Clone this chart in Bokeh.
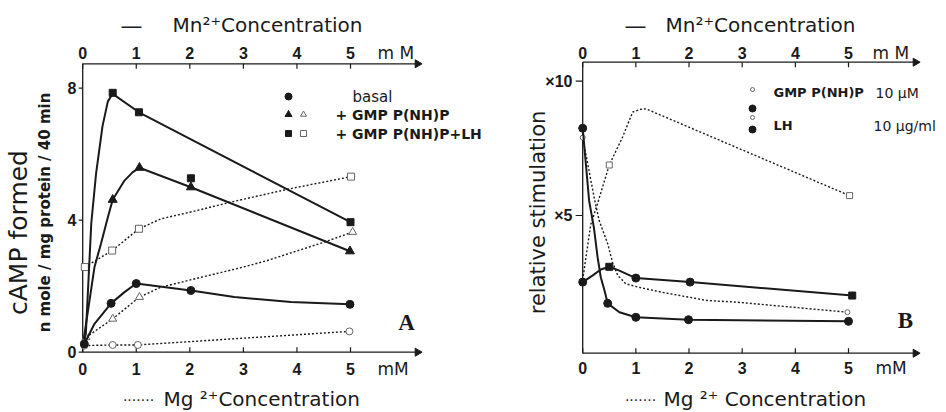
import math
from bokeh.plotting import figure
from bokeh.models import Range1d, Label
from bokeh.layouts import row
from bokeh.embed import file_html
from bokeh.resources import INLINE
from bokeh.core.properties import value

# ======================= DATA =======================
mn_ticks = [0, 1, 2, 3, 4, 5]
mn_tick_labels = ["0", "1", "2", "3", "4", "5"]
a_y_ticks = [0, 4, 8]
a_y_tick_labels = ["0", "4", "8"]
b_y_ticks = [5, 10]
b_y_tick_labels = ["×5", "×10"]

# ---- Panel A : cAMP formed (n mole / mg protein / 40 min) ----
# Mn2+ (solid curves, filled markers)
a_mn_basal_x = [0.03, 0.53, 1.0, 2.02, 4.99]
a_mn_basal_y = [0.25, 1.48, 2.08, 1.87, 1.45]
a_mn_basal_curve_x = [0.03, 0.22, 0.53, 0.78, 1.0, 2.02, 2.83, 3.89, 4.99]
a_mn_basal_curve_y = [0.25, 0.86, 1.48, 1.82, 2.08, 1.87, 1.67, 1.52, 1.45]

a_mn_gmp_x = [0.56, 1.06, 2.02, 4.99]
a_mn_gmp_y = [4.62, 5.59, 5.00, 3.06]
a_mn_gmp_curve_x = [0.02, 0.22, 0.34, 0.47, 0.56, 0.78, 0.93, 1.06, 2.02, 4.99]
a_mn_gmp_curve_y = [0.40, 2.58, 3.28, 4.09, 4.62, 5.20, 5.45, 5.59, 5.00, 3.06]

a_mn_lh_x = [0.56, 1.05, 2.02, 5.0]
a_mn_lh_y = [7.86, 7.27, 5.27, 3.94]
a_mn_lh_curve_x = [0.03, 0.06, 0.16, 0.25, 0.37, 0.47, 0.56, 1.05, 5.0]
a_mn_lh_curve_y = [0.30, 0.60, 3.90, 5.42, 6.85, 7.60, 7.83, 7.27, 3.94]

# Mg2+ (dotted curves, open markers)
a_mg_basal_x = [0.03, 0.56, 1.03, 4.98]
a_mg_basal_y = [0.20, 0.22, 0.22, 0.63]

a_mg_gmp_x = [0.06, 0.56, 1.06, 5.04]
a_mg_gmp_y = [0.45, 1.01, 1.67, 3.64]
a_mg_gmp_curve_x = [0.06, 0.56, 1.06, 1.46, 2.21, 3.0, 3.45, 4.5, 5.04]
a_mg_gmp_curve_y = [0.45, 1.01, 1.67, 1.97, 2.27, 2.58, 2.78, 3.33, 3.64]

a_mg_lh_x = [0.04, 0.55, 1.05, 5.01]
a_mg_lh_y = [2.58, 3.08, 3.74, 5.32]
a_mg_lh_curve_x = [0.04, 0.55, 1.05, 1.46, 2.15, 2.77, 3.86, 5.01]
a_mg_lh_curve_y = [2.58, 3.08, 3.74, 4.04, 4.30, 4.55, 4.95, 5.32]

# ---- Panel B : relative stimulation ----
# Mn2+ (solid)
b_mn_lh_x = [0.0, 0.47, 1.0, 1.99, 5.0]
b_mn_lh_y = [8.25, 1.73, 1.21, 1.12, 1.06]
b_mn_lh_curve_x = [0.0, 0.12, 0.21, 0.28, 0.34, 0.41, 0.47, 0.69, 1.0, 1.99, 5.0]
b_mn_lh_curve_y = [8.25, 5.56, 4.56, 3.45, 2.70, 2.21, 1.73, 1.40, 1.21, 1.12, 1.06]

b_mn_gmp_circle_x = [0.0, 1.0, 2.02]
b_mn_gmp_circle_y = [2.52, 2.67, 2.52]
b_mn_gmp_square_x = [0.5, 5.07]
b_mn_gmp_square_y = [3.09, 2.02]
b_mn_gmp_curve_x = [0.0, 0.19, 0.34, 0.5, 0.69, 1.0, 2.02, 5.07]
b_mn_gmp_curve_y = [2.52, 2.77, 2.99, 3.09, 2.95, 2.67, 2.52, 2.02]

# Mg2+ (dotted)
b_mg_gmp_x = [0.5, 5.02]
b_mg_gmp_y = [6.88, 5.74]
b_mg_gmp_curve_x = [0.0, 0.15, 0.28, 0.5, 0.75, 0.94, 1.08, 1.19, 5.02]
b_mg_gmp_curve_y = [2.60, 4.65, 5.45, 6.88, 7.92, 8.85, 8.95, 8.97, 5.74]

b_mg_lh_x = [0.0, 4.98]
b_mg_lh_y = [7.90, 1.40]
b_mg_lh_curve_x = [0.0, 0.22, 0.31, 0.47, 0.56, 0.66, 0.81, 1.05, 1.5, 1.94, 2.32, 2.92, 4.98]
b_mg_lh_curve_y = [7.90, 5.62, 4.81, 3.95, 3.26, 2.77, 2.46, 2.33, 2.14, 1.98, 1.84, 1.77, 1.40]

# ======================= LAYOUT =======================
H = 411
INK = "#1a1a1a"
SANS = "Liberation Sans"
DJ = "DejaVu Sans"


class Frame:
    """Maps picture pixels (for annotation placement) to the figure's data space."""

    def __init__(self, width, dx, cx0, sx, cy0, sy):
        self.width, self.dx = width, dx
        self.cx0, self.sx, self.cy0, self.sy = cx0, sx, cy0, sy
        self.xs, self.xe = -cx0 / sx, (width - cx0) / sx
        self.ys, self.ye = -(H - cy0) / sy, cy0 / sy

    def x(self, page_x):
        return (page_x - self.dx - self.cx0) / self.sx

    def y(self, page_y):
        return (self.cy0 - page_y) / self.sy


def make_fig(fr):
    p = figure(width=fr.width, height=H, x_range=Range1d(fr.xs, fr.xe),
               y_range=Range1d(fr.ys, fr.ye), output_backend="svg",
               toolbar_location=None, x_axis_location=None, y_axis_location=None,
               min_border=0)
    p.outline_line_color = None
    p.grid.visible = False
    p.background_fill_color = "white"
    p.border_fill_color = "white"
    return p


def draw_axes(p, fr, x_end, y_bot, y_top, yticks, ylabels, ytick_out,
              ylab_right_px, xlab_bot_py, xlab_top_py):
    n, m = len(mn_ticks), len(yticks)
    p.segment(x0=[0, 0, 0], y0=[y_bot, y_bot, y_top], x1=[0, x_end, x_end],
              y1=[y_top, y_bot, y_top], line_color=INK, line_width=1.3)
    p.scatter([x_end, x_end], [y_bot, y_top], marker="triangle", angle=-math.pi / 2,
              size=8, color=INK)
    tin = 5 / fr.sy
    p.segment(x0=mn_ticks, y0=[y_bot] * n, x1=mn_ticks, y1=[y_bot + tin] * n,
              line_color=INK, line_width=1.2)
    p.segment(x0=mn_ticks, y0=[y_top] * n, x1=mn_ticks, y1=[y_top - tin] * n,
              line_color=INK, line_width=1.2)
    p.segment(x0=[0] * m, y0=yticks, x1=[-ytick_out / fr.sx] * m, y1=yticks,
              line_color=INK, line_width=1.2)
    common = dict(text_font=value(SANS), text_font_style="bold", text_font_size="16px",
                  text_color=INK, text_baseline="middle")
    p.text(x=mn_ticks, y=[fr.y(xlab_bot_py)] * n, text=mn_tick_labels,
           text_align="center", **common)
    p.text(x=mn_ticks, y=[fr.y(xlab_top_py)] * n, text=mn_tick_labels,
           text_align="center", **common)
    p.text(x=[fr.x(ylab_right_px)] * m, y=yticks, text=ylabels, text_align="right", **common)


def label(p, fr, px, py, text, size, font=DJ, style="normal", align="left",
          angle=0.0, color=INK):
    p.add_layout(Label(x=fr.x(px), y=fr.y(py), text=text, text_font=font,
                       text_font_size=f"{size}px", text_font_style=style,
                       text_align=align, text_baseline="middle", angle=angle,
                       text_color=color))


SOLID = dict(line_color=INK, line_width=2.0)
DOT = dict(line_color=INK, line_width=1.4, line_dash="2 2")
OPEN = dict(fill_color="white", line_color="#666", line_width=1.0)

# ---------------- Panel A ----------------
frA = Frame(508, 0, 82.2, 53.56, 351.7, 33.0)
pA = make_fig(frA)
draw_axes(pA, frA, frA.x(417), 0.0, frA.y(63.3), a_y_ticks, a_y_tick_labels, 4,
          76, 368, 52)

pA.line(a_mg_basal_x, a_mg_basal_y, **DOT)
pA.line(a_mg_gmp_curve_x, a_mg_gmp_curve_y, **DOT)
pA.line(a_mg_lh_curve_x, a_mg_lh_curve_y, **DOT)
pA.scatter(a_mg_basal_x, a_mg_basal_y, marker="circle", size=7, **OPEN)
pA.scatter(a_mg_gmp_x, a_mg_gmp_y, marker="triangle", size=8, **OPEN)
pA.scatter(a_mg_lh_x, a_mg_lh_y, marker="square", size=7, **OPEN)

pA.line(a_mn_basal_curve_x, a_mn_basal_curve_y, **SOLID)
pA.line(a_mn_gmp_curve_x, a_mn_gmp_curve_y, **SOLID)
pA.line(a_mn_lh_curve_x, a_mn_lh_curve_y, **SOLID)
pA.scatter(a_mn_basal_x, a_mn_basal_y, marker="circle", size=8, color=INK)
pA.scatter(a_mn_gmp_x, a_mn_gmp_y, marker="triangle", size=9, color=INK)
pA.scatter(a_mn_lh_x, a_mn_lh_y, marker="square", size=7, color=INK)

# legend A (key markers + texts)
keyA_x_filled, keyA_x_open = frA.x(288), frA.x(303)
keyA_rows = [frA.y(96), frA.y(114), frA.y(133)]
pA.scatter([keyA_x_filled], [keyA_rows[0]], marker="circle", size=7, color=INK)
pA.scatter([keyA_x_filled], [keyA_rows[1]], marker="triangle", size=7, color=INK)
pA.scatter([keyA_x_filled], [keyA_rows[2]], marker="square", size=6, color=INK)
pA.scatter([keyA_x_open], [keyA_rows[1]], marker="triangle", size=6, **OPEN)
pA.scatter([keyA_x_open], [keyA_rows[2]], marker="square", size=6, **OPEN)
label(pA, frA, 352, 96, "basal", 15)
label(pA, frA, 335, 114, "+ GMP P(NH)P", 14, style="bold")
label(pA, frA, 335, 133, "+ GMP P(NH)P+LH", 14, style="bold")

# titles A
label(pA, frA, 131, 25, "—", 22, align="center")
label(pA, frA, 172, 24, "Mn²⁺Concentration", 20)
label(pA, frA, 377, 52, "m M", 17)
label(pA, frA, 138, 399, "·······", 14, align="center")
label(pA, frA, 163, 398, "Mg ²⁺Concentration", 20)
label(pA, frA, 377, 368, "mM", 17)
label(pA, frA, 406, 322, "A", 23, font="Liberation Serif", style="bold", align="center")
label(pA, frA, 18, 232, "cAMP formed", 25, align="center", angle=math.pi / 2)
label(pA, frA, 44, 212, "n mole / mg protein / 40 min", 15, style="bold",
      align="center", angle=math.pi / 2)

# ---------------- Panel B ----------------
frB = Frame(436, 508, 74.2, 53.16, 349.3, 26.86)
pB = make_fig(frB)
draw_axes(pB, frB, frB.x(915), frB.y(352.7), frB.y(61.7), b_y_ticks, b_y_tick_labels, 7,
          572, 367, 52)

pB.line(b_mg_gmp_curve_x, b_mg_gmp_curve_y, **DOT)
pB.line(b_mg_lh_curve_x, b_mg_lh_curve_y, **DOT)
pB.scatter(b_mg_gmp_x, b_mg_gmp_y, marker="square", size=6, **OPEN)
pB.scatter(b_mg_lh_x, b_mg_lh_y, marker="circle", size=5, **OPEN)

pB.line(b_mn_lh_curve_x, b_mn_lh_curve_y, **SOLID)
pB.line(b_mn_gmp_curve_x, b_mn_gmp_curve_y, **SOLID)
pB.scatter(b_mn_lh_x, b_mn_lh_y, marker="circle", size=8, color=INK)
pB.scatter(b_mn_gmp_circle_x, b_mn_gmp_circle_y, marker="circle", size=8, color=INK)
pB.scatter(b_mn_gmp_square_x, b_mn_gmp_square_y, marker="square", size=7, color=INK)

# legend B
keyB_x = frB.x(752)
pB.scatter([keyB_x, keyB_x], [frB.y(89), frB.y(117)], marker="circle", size=4, **OPEN)
pB.scatter([keyB_x, keyB_x], [frB.y(108), frB.y(129)], marker="circle", size=7, color=INK)
label(pB, frB, 773, 92, "GMP P(NH)P", 13, style="bold")
label(pB, frB, 875, 92, "10 µM", 14)
label(pB, frB, 773, 125, "LH", 13, style="bold")
label(pB, frB, 873, 125, "10 µg/ml", 14)

# titles B
label(pB, frB, 635, 25, "—", 22, align="center")
label(pB, frB, 665, 24, "Mn²⁺Concentration", 20)
label(pB, frB, 872, 52, "m M", 17)
label(pB, frB, 640, 399, "·······", 14, align="center")
label(pB, frB, 663, 398, "Mg ²⁺ Concentration", 20)
label(pB, frB, 875, 367, "mM", 17)
label(pB, frB, 905, 320, "B", 23, font="Liberation Serif", style="bold", align="center")
label(pB, frB, 537, 212, "relative stimulation", 21, align="center", angle=math.pi / 2)

layout = row(pA, pB)
open("out.html", "w").write(file_html(layout, INLINE))
